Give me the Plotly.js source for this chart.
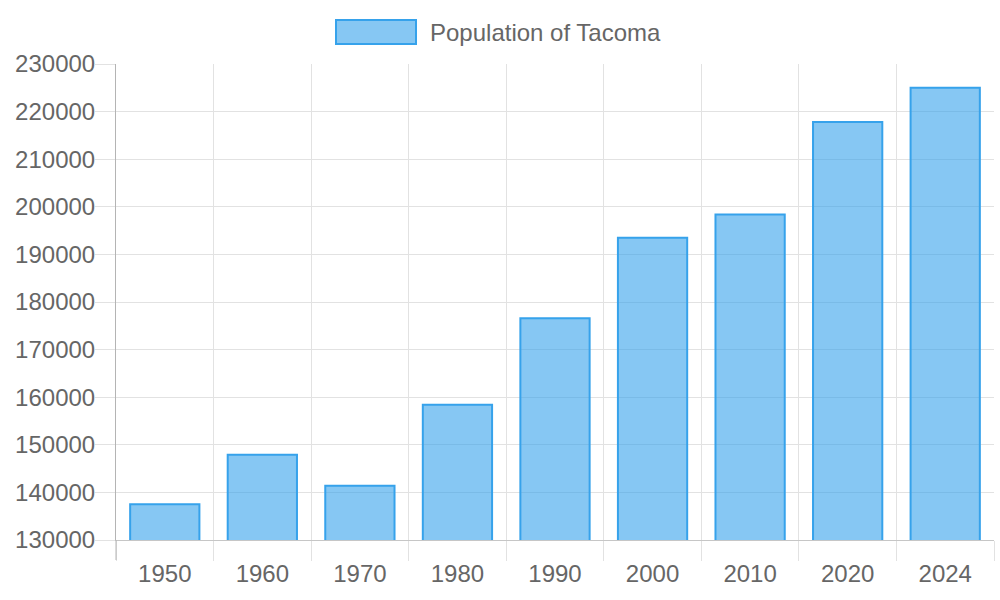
<!DOCTYPE html>
<html>
<head>
<meta charset="utf-8">
<script src="https://cdn.plot.ly/plotly-3.0.1.min.js"></script>
<style>html,body{margin:0;padding:0;background:#fff}#chart{width:1000px;height:600px}</style>
</head>
<body>
<div id="chart"></div>
<script>
const years = ["1950","1960","1970","1980","1990","2000","2010","2020","2024"];
const population = [137500, 147900, 141400, 158400, 176600, 193500, 198400, 217800, 225000];
const seriesName = "Population of Tacoma";

const font = {family: "Liberation Sans, Arial, Helvetica, sans-serif", size: 24, color: "#666666"};

const trace = {
  type: "bar",
  x: years,
  y: population,
  name: seriesName,
  marker: {color: "rgba(54,162,235,0.6)", line: {color: "rgb(54,162,235)", width: 2}},
  hoverinfo: "x+y"
};

const layout = {
  width: 1000, height: 600,
  margin: {l: 116, r: 6, t: 64, b: 60},
  paper_bgcolor: "#ffffff", plot_bgcolor: "#ffffff",
  font: font,
  showlegend: false,
  bargap: 0.29,
  xaxis: {
    type: "category",
    tickson: "boundaries",
    showgrid: true, gridcolor: "#e2e2e2", gridwidth: 1,
    ticks: "outside", ticklen: 20, tickcolor: "#e2e2e2", tickwidth: 1,
    ticklabelstandoff: 12,
    showline: true, linecolor: "#c6c6c6", linewidth: 1,
    tickfont: font, zeroline: false, fixedrange: true,
    range: [-0.5, 8.5]
  },
  yaxis: {
    range: [130000, 230000], dtick: 10000, tick0: 130000, tickformat: "d",
    showgrid: true, gridcolor: "#e2e2e2", gridwidth: 1,
    ticks: "outside", ticklen: 20, tickcolor: "#e2e2e2", tickwidth: 1,
    ticklabelstandoff: -5,
    showline: true, linecolor: "#b4b4b4", linewidth: 1,
    tickfont: font, zeroline: false, fixedrange: true
  },
  shapes: [{
    type: "rect", xref: "paper", yref: "paper",
    x0: (336 - 116) / 878, x1: (416 - 116) / 878,
    y0: (540 - 44) / 476, y1: (540 - 20) / 476,
    fillcolor: "rgba(54,162,235,0.6)", line: {color: "rgb(54,162,235)", width: 2}
  }, {
    type: "line", xref: "paper", yref: "paper",
    x0: 0, x1: 0, y0: 0, y1: -20 / 476,
    line: {color: "#b4b4b4", width: 1}
  }],
  annotations: [{
    xref: "paper", yref: "paper",
    x: (428 - 116) / 878, y: (540 - 32) / 476,
    xanchor: "left", yanchor: "middle", showarrow: false,
    text: seriesName, font: {family: font.family, size: 24, color: "#666666"}
  }]
};

Plotly.newPlot("chart", [trace], layout, {displayModeBar: false, staticPlot: true});
</script>
</body>
</html>
